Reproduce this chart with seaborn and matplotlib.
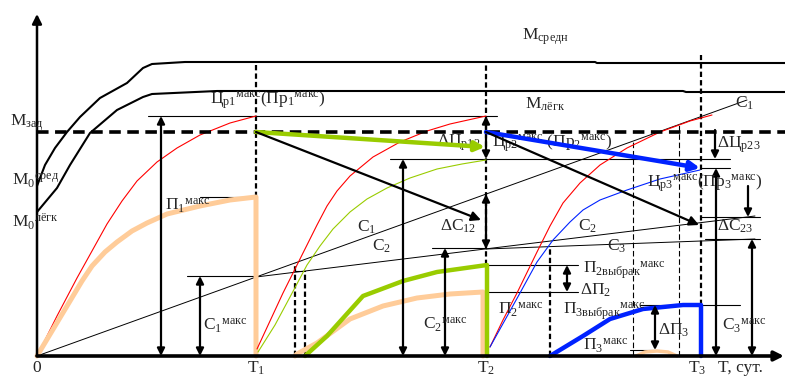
import matplotlib
matplotlib.use("Agg")
import matplotlib.pyplot as plt
import seaborn as sns

sns.set_style("white")
plt.rcParams["font.family"] = ["Liberation Serif", "DejaVu Serif"]
plt.rcParams["mathtext.fontset"] = "custom"
plt.rcParams["mathtext.rm"] = "Liberation Serif"
plt.rcParams["mathtext.it"] = "Liberation Serif"
plt.rcParams["mathtext.default"] = "regular"

# ---- time marks (days) ----
T1, T2, T3 = 219, 449, 664
time_ticks = [0, T1, T2, 660]
time_labels = ["0", "$T_1$", "$T_2$", "$T_3$"]

# ---- strength envelopes ----
m_sred_t = [0, 8, 18, 30, 43, 63, 90, 106, 115, 148, 558, 560, 748]
m_sred_v = [170, 191, 208, 224, 239, 258, 273, 288, 292, 294, 294, 293, 293]
m_legk_t = [0, 10, 20, 33, 53, 80, 106, 115, 180, 646, 649, 748]
m_legk_v = [144, 156, 168, 191, 223, 246, 259, 262, 265, 265, 264, 264]
m_zad = 224

# ---- cycle 1 ----
red1_t = [0, 20, 40, 55, 70, 85, 100, 120, 140, 163, 193, 219]
red1_v = [0, 40, 78, 105, 132, 155, 175, 194, 208, 221, 233, 240]
org1_t = [0, 15, 30, 45, 55, 68, 80, 95, 110, 130, 163, 193, 219, 219]
org1_v = [0, 25, 50, 75, 90, 104, 114, 125, 133, 142, 150, 156, 159, 0]

# ---- cost lines ----
c1_t, c1_v = [0, 710], [0, 256]
c2_t, c2_v = [T1, 718], [79, 140]
c3_t, c3_v = [T2, 718], [107, 117]

# ---- cycle 2 ----
red2_t = [220, 233, 246, 263, 280, 290, 300, 313, 336, 363, 390, 413, 449]
red2_v = [7, 35, 63, 97, 131, 150, 165, 180, 199, 214, 225, 232, 240]
grn2_t = [221, 238, 253, 270, 283, 296, 313, 330, 350, 373, 400, 425, 449]
grn2_v = [4, 31, 59, 91, 110, 127, 144, 157, 168, 178, 187, 192, 196]
org2_t = [258, 260, 280, 313, 346, 380, 413, 446, 446]
org2_v = [0, 2, 13, 37, 50, 58, 62, 64, 0]
grnb2_t = [268, 290, 326, 366, 400, 450, 450]
grnb2_v = [0, 20, 60, 75, 84, 91, 0]

# ---- cycle 3 ----
red3_t = [453, 466, 480, 500, 513, 526, 543, 563, 590, 623, 653, 675]
red3_v = [9, 36, 63, 104, 130, 153, 173, 191, 208, 224, 235, 241]
blu3_t = [453, 468, 483, 500, 516, 533, 546, 563, 590, 623, 663]
blu3_v = [9, 36, 63, 94, 116, 134, 146, 156, 166, 177, 186]
blub3_t = [513, 546, 573, 606, 646, 664, 664]
blub3_v = [0, 20, 37, 47, 51, 51, 0]
arc_t = [599, 608, 620, 631, 640]
arc_v = [0, 4, 5, 4, 0]

# level marks: value, start, end
levels = [(240, 111, 460), (159, 163, 219), (80, 150, 219), (197, 353, 693),
          (108, 395, 449), (91, 449, 541), (64, 449, 541), (188, 663, 693),
          (139, 663, 723), (117, 668, 723), (51, 603, 703), (6, 593, 620),
          (85, 258, 268)]
# two-headed span arrows: position, low, high
spans = [(124, 0, 240), (163, 0, 80), (366, 0, 197), (408, 0, 108),
         (449, 197, 240), (449, 107, 162), (530, 64, 91), (618, 6, 51),
         (679, 0, 188), (715, 0, 117)]
# one-headed drop arrows: position, from, to
drops = [(678, 226, 197), (711, 170, 139)]
# dashed verticals: position, low, high, style
verticals = [(T1, 159, 294, "thick"), (T2, 91, 294, "thick"), (T3, 51, 301, "thick"),
             (258, 0, 93, "thick"), (268, 0, 85, "thick"), (513, 0, 109, "thick"),
             (596, 0, 215, "thin"), (642, 0, 231, "thin")]
# trend arrows: start, end, colour, width
trends = [((T1, 224), (448, 209), "#99CC00", 3.2),
          ((T1, 224), (444, 136), "black", 1.6),
          ((T2, 224), (663, 188), "#0022FF", 3.2),
          ((T2, 224), (662, 131), "black", 1.6)]

fig = plt.figure(figsize=(7.85, 3.76), dpi=100)
ax = fig.add_axes([0, 0, 1, 1])
ax.set_xlim(-37, 748)
ax.set_ylim(-20, 356)
ax.axis("off")


def curve(t, v, color, lw, z=3):
    sns.lineplot(x=t, y=v, ax=ax, sort=False, estimator=None, color=color,
                 lw=lw, zorder=z, legend=False)


# envelopes and target
curve(m_sred_t, m_sred_v, "black", 1.5)
curve(m_legk_t, m_legk_v, "black", 1.5)
ax.plot([0, 748], [m_zad, m_zad], color="black", lw=2.6, dashes=(3.2, 1.8), zorder=4)

# cost lines
curve(c1_t, c1_v, "black", 0.7, 2)
curve(c2_t, c2_v, "black", 0.7, 2)
curve(c3_t, c3_v, "black", 0.7, 2)

# level marks
for y, a, b in levels:
    ax.plot([a, b], [y, y], color="black", lw=0.8, zorder=2)

# dashed verticals
for x, lo, hi, st in verticals:
    if st == "thick":
        ax.plot([x, x], [lo, hi], color="black", lw=1.6, dashes=(2.4, 1.4), zorder=3)
    else:
        ax.plot([x, x], [lo, hi], color="black", lw=0.8, dashes=(5, 2.5), zorder=3)

# cycles
curve(red1_t, red1_v, "#FF0000", 0.8)
curve(org1_t, org1_v, "#FFCC99", 3.6)
curve(red2_t, red2_v, "#FF0000", 0.8)
curve(grn2_t, grn2_v, "#99CC00", 0.8)
curve(org2_t, org2_v, "#FFCC99", 3.6)
curve(grnb2_t, grnb2_v, "#99CC00", 3.2)
curve(red3_t, red3_v, "#FF0000", 0.8)
curve(blu3_t, blu3_v, "#0022FF", 0.8)
curve(blub3_t, blub3_v, "#0022FF", 3.2)
curve(arc_t, arc_v, "#FFCC99", 2.5)

# span arrows
for x, lo, hi in spans:
    ax.annotate("", xy=(x, hi), xytext=(x, lo),
                arrowprops=dict(arrowstyle="<|-|>", color="black", lw=1.6,
                                mutation_scale=11, shrinkA=0, shrinkB=0), zorder=5)
for x, a, b in drops:
    ax.annotate("", xy=(x, b), xytext=(x, a),
                arrowprops=dict(arrowstyle="-|>", color="black", lw=1.6,
                                mutation_scale=11, shrinkA=0, shrinkB=0), zorder=5)

# axes
ax.annotate("", xy=(0, 342), xytext=(0, 0),
            arrowprops=dict(arrowstyle="-|>", color="black", lw=1.8,
                            mutation_scale=14, shrinkA=0, shrinkB=0), zorder=6)
ax.annotate("", xy=(747, 0), xytext=(0, 0),
            arrowprops=dict(arrowstyle="-|>", color="black", lw=2.6,
                            mutation_scale=14, shrinkA=0, shrinkB=0), zorder=6)


def lab(x, y, s, ha="left", size=12.5):
    ax.text(x, y, s, ha=ha, va="center", fontsize=size, zorder=7)


for t, s in zip(time_ticks, time_labels):
    lab(t, -12, s, ha="center")
lab(681, -12, "T, сут.")

lab(-27, 233, r"$M_{зад}$")
lab(-25, 175, r"$M_0{}^{сред}$")
lab(-25, 134, r"$M_0{}^{лёгк}$")
lab(485, 319, r"$M_{средн}$")
lab(488, 252, r"$M_{лёгк}$")
lab(698, 253, r"$C_1$")
lab(173, 256, r"$Ц_{р1}{}^{макс}(Пр_1{}^{макс})$")
lab(128, 150, r"$П_1{}^{макс}$")
lab(166, 30, r"$C_1{}^{макс}$")
lab(400, 213, r"$ΔЦ_{р12}$")
lab(455, 213, r"$Ц_{р2}{}^{макс}\ (Пр_2{}^{макс})$")
lab(403, 130, r"$ΔC_{12}$")
lab(320, 129, r"$C_1$")
lab(335, 110, r"$C_2$")
lab(386, 31, r"$C_2{}^{макс}$")
lab(461, 46, r"$П_2{}^{макс}$")
lab(546, 86, r"$П_{2выбрак}{}^{макс}$")
lab(543, 66, r"$ΔП_2$")
lab(541, 130, r"$C_2$")
lab(570, 110, r"$C_3$")
lab(526, 45, r"$П_{3выбрак}{}^{макс}$")
lab(621, 26, r"$ΔП_3$")
lab(546, 10, r"$П_3{}^{макс}$")
lab(680, 211, r"$ΔЦ_{р23}$")
lab(610, 173, r"$Ц_{р3}{}^{макс}(Пр_3{}^{макс})$")
lab(680, 130, r"$ΔC_{23}$")
lab(685, 30, r"$C_3{}^{макс}$")

# trend arrows drawn over labels
for (a, b, col, w) in trends:
    ax.annotate("", xy=b, xytext=a,
                arrowprops=dict(arrowstyle="-|>", color=col, lw=w,
                                mutation_scale=14, shrinkA=0, shrinkB=0), zorder=8)

fig.savefig("out.png", dpi=100)
